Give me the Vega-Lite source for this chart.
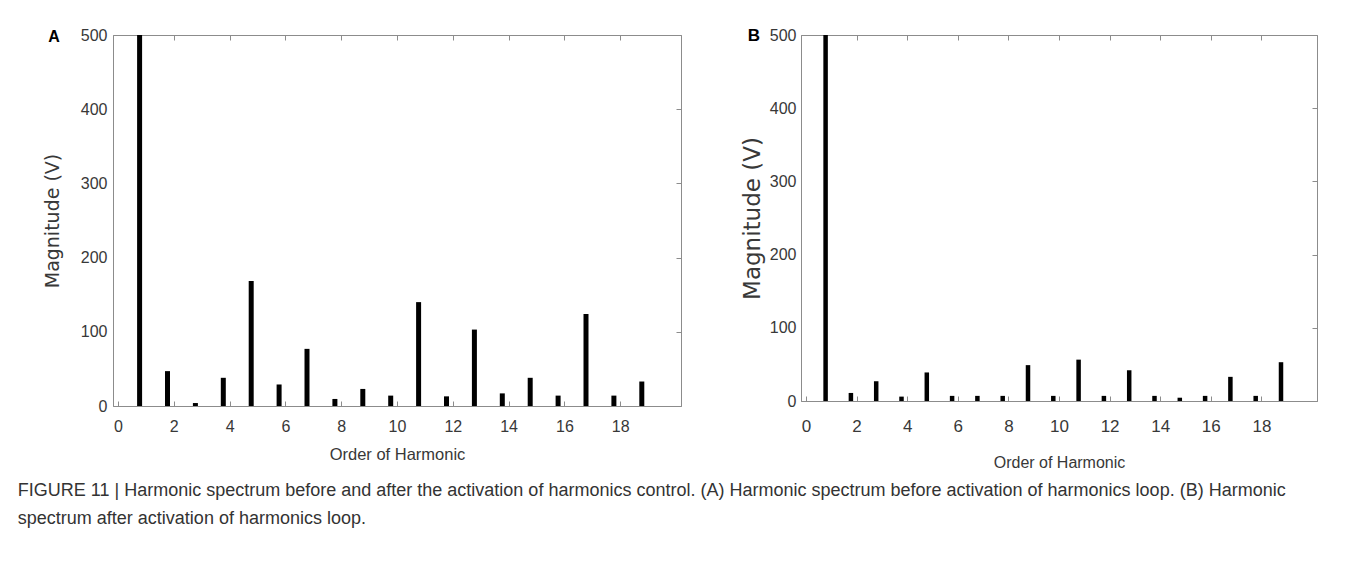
{
  "$schema": "https://vega.github.io/schema/vega-lite/v6.json",
  "background": "white",
  "padding": {"left": 17, "top": 26, "right": 5, "bottom": 5},
  "datasets": {
    "before": [
      {"harmonic": 1, "magnitude": 500},
      {"harmonic": 2, "magnitude": 47},
      {"harmonic": 3, "magnitude": 4},
      {"harmonic": 4, "magnitude": 38},
      {"harmonic": 5, "magnitude": 168.5},
      {"harmonic": 6, "magnitude": 29},
      {"harmonic": 7, "magnitude": 77},
      {"harmonic": 8, "magnitude": 9.5},
      {"harmonic": 9, "magnitude": 23},
      {"harmonic": 10, "magnitude": 14},
      {"harmonic": 11, "magnitude": 140},
      {"harmonic": 12, "magnitude": 13},
      {"harmonic": 13, "magnitude": 103},
      {"harmonic": 14, "magnitude": 17},
      {"harmonic": 15, "magnitude": 38},
      {"harmonic": 16, "magnitude": 14},
      {"harmonic": 17, "magnitude": 124},
      {"harmonic": 18, "magnitude": 14},
      {"harmonic": 19, "magnitude": 33}
    ],
    "after": [
      {"harmonic": 1, "magnitude": 500},
      {"harmonic": 2, "magnitude": 11},
      {"harmonic": 3, "magnitude": 27},
      {"harmonic": 4, "magnitude": 6},
      {"harmonic": 5, "magnitude": 39},
      {"harmonic": 6, "magnitude": 7},
      {"harmonic": 7, "magnitude": 7},
      {"harmonic": 8, "magnitude": 7},
      {"harmonic": 9, "magnitude": 49},
      {"harmonic": 10, "magnitude": 7},
      {"harmonic": 11, "magnitude": 56.5},
      {"harmonic": 12, "magnitude": 7},
      {"harmonic": 13, "magnitude": 42},
      {"harmonic": 14, "magnitude": 7},
      {"harmonic": 15, "magnitude": 4.5},
      {"harmonic": 16, "magnitude": 7},
      {"harmonic": 17, "magnitude": 33},
      {"harmonic": 18, "magnitude": 7},
      {"harmonic": 19, "magnitude": 53}
    ]
  },
  "config": {
    "view": {"stroke": "#8c8c8c", "strokeWidth": 1},
    "axis": {
      "grid": false,
      "domainColor": "#8c8c8c",
      "tickColor": "#8c8c8c",
      "labelColor": "#383838",
      "titleColor": "#383838",
      "labelFont": "Liberation Sans",
      "titleFontWeight": "normal"
    }
  },
  "title": {
    "text": [
      "FIGURE 11 | Harmonic spectrum before and after the activation of harmonics control. (A) Harmonic spectrum before activation of harmonics loop. (B) Harmonic",
      "spectrum after activation of harmonics loop."
    ],
    "orient": "bottom",
    "anchor": "start",
    "frame": "bounds",
    "font": "Liberation Sans",
    "fontSize": 18,
    "fontWeight": "normal",
    "color": "#333333",
    "lineHeight": 28,
    "offset": 11,
    "dx": -25
  },
  "spacing": 58,
  "hconcat": [
    {
      "width": 568,
      "height": 371,
      "layer": [
        {
          "data": {"name": "before"},
          "mark": {"type": "bar", "color": "black", "width": 5, "xOffset": -6.3, "clip": true},
          "encoding": {
            "x": {
              "field": "harmonic",
              "type": "quantitative",
              "scale": {"domain": [0, 20], "nice": false, "zero": false},
              "axis": {
                "title": "Order of Harmonic",
                "values": [0, 2, 4, 6, 8, 10, 12, 14, 16, 18],
                "tickSize": -5,
                "labelPadding": 17,
                "labelFontSize": 16,
                "titleFont": "Liberation Sans",
                "titleFontSize": 16.5,
                "titlePadding": 12
              }
            },
            "y": {
              "field": "magnitude",
              "type": "quantitative",
              "scale": {"domain": [0, 500], "nice": false},
              "axis": {
                "title": "Magnitude (V)",
                "values": [0, 100, 200, 300, 400, 500],
                "ticks": false,
                "tickSize": 0,
                "labelPadding": 6,
                "labelFontSize": 16,
                "titleFont": "DejaVu Sans",
                "titleFontSize": 19,
                "titlePadding": 18
              }
            }
          }
        },
        {
          "data": {"name": "before"},
          "mark": {"type": "bar", "opacity": 0, "width": 1},
          "encoding": {
            "x": {
              "field": "harmonic",
              "type": "quantitative",
              "axis": {"orient": "top", "labels": false, "title": null, "tickSize": -5, "values": [2, 4, 6, 8, 10, 12, 14, 16, 18]}
            },
            "y": {
              "field": "magnitude",
              "type": "quantitative",
              "axis": {"orient": "right", "labels": false, "title": null, "tickSize": -5, "values": [100, 200, 300, 400]}
            }
          }
        },
        {
          "data": {"values": [{"panel": "A"}]},
          "mark": {"type": "text", "font": "Liberation Sans", "fontSize": 16, "fontWeight": "bold", "color": "black", "align": "center", "baseline": "middle", "dx": -64, "dy": 2},
          "encoding": {
            "x": {"datum": 0, "type": "quantitative", "axis": null},
            "y": {"datum": 500, "type": "quantitative", "axis": null},
            "text": {"field": "panel"}
          }
        }
      ],
      "resolve": {"axis": {"x": "independent", "y": "independent"}}
    },
    {
      "width": 516,
      "height": 366,
      "layer": [
        {
          "data": {"name": "after"},
          "mark": {"type": "bar", "color": "black", "width": 4.5, "xOffset": -5.7, "clip": true},
          "encoding": {
            "x": {
              "field": "harmonic",
              "type": "quantitative",
              "scale": {"domain": [0, 20], "nice": false, "zero": false},
              "axis": {
                "title": "Order of Harmonic",
                "values": [0, 2, 4, 6, 8, 10, 12, 14, 16, 18],
                "tickSize": -5,
                "labelPadding": 22,
                "labelFontSize": 17,
                "titleFont": "Liberation Sans",
                "titleFontSize": 16,
                "titlePadding": 20
              }
            },
            "y": {
              "field": "magnitude",
              "type": "quantitative",
              "scale": {"domain": [0, 500], "nice": false},
              "axis": {
                "title": "Magnitude (V)",
                "values": [0, 100, 200, 300, 400, 500],
                "ticks": false,
                "tickSize": 0,
                "labelPadding": 5,
                "labelFontSize": 16,
                "titleFont": "DejaVu Sans",
                "titleFontSize": 23,
                "titlePadding": 5
              }
            }
          }
        },
        {
          "data": {"name": "after"},
          "mark": {"type": "bar", "opacity": 0, "width": 1},
          "encoding": {
            "x": {
              "field": "harmonic",
              "type": "quantitative",
              "axis": {"orient": "top", "labels": false, "title": null, "tickSize": -5, "values": [2, 4, 6, 8, 10, 12, 14, 16, 18]}
            },
            "y": {
              "field": "magnitude",
              "type": "quantitative",
              "axis": {"orient": "right", "labels": false, "title": null, "tickSize": -5, "values": [100, 200, 300, 400]}
            }
          }
        },
        {
          "data": {"values": [{"panel": "B"}]},
          "mark": {"type": "text", "font": "Liberation Sans", "fontSize": 17, "fontWeight": "bold", "color": "black", "align": "center", "baseline": "middle", "dx": -52, "dy": 1},
          "encoding": {
            "x": {"datum": 0, "type": "quantitative", "axis": null},
            "y": {"datum": 500, "type": "quantitative", "axis": null},
            "text": {"field": "panel"}
          }
        }
      ],
      "resolve": {"axis": {"x": "independent", "y": "independent"}}
    }
  ]
}
